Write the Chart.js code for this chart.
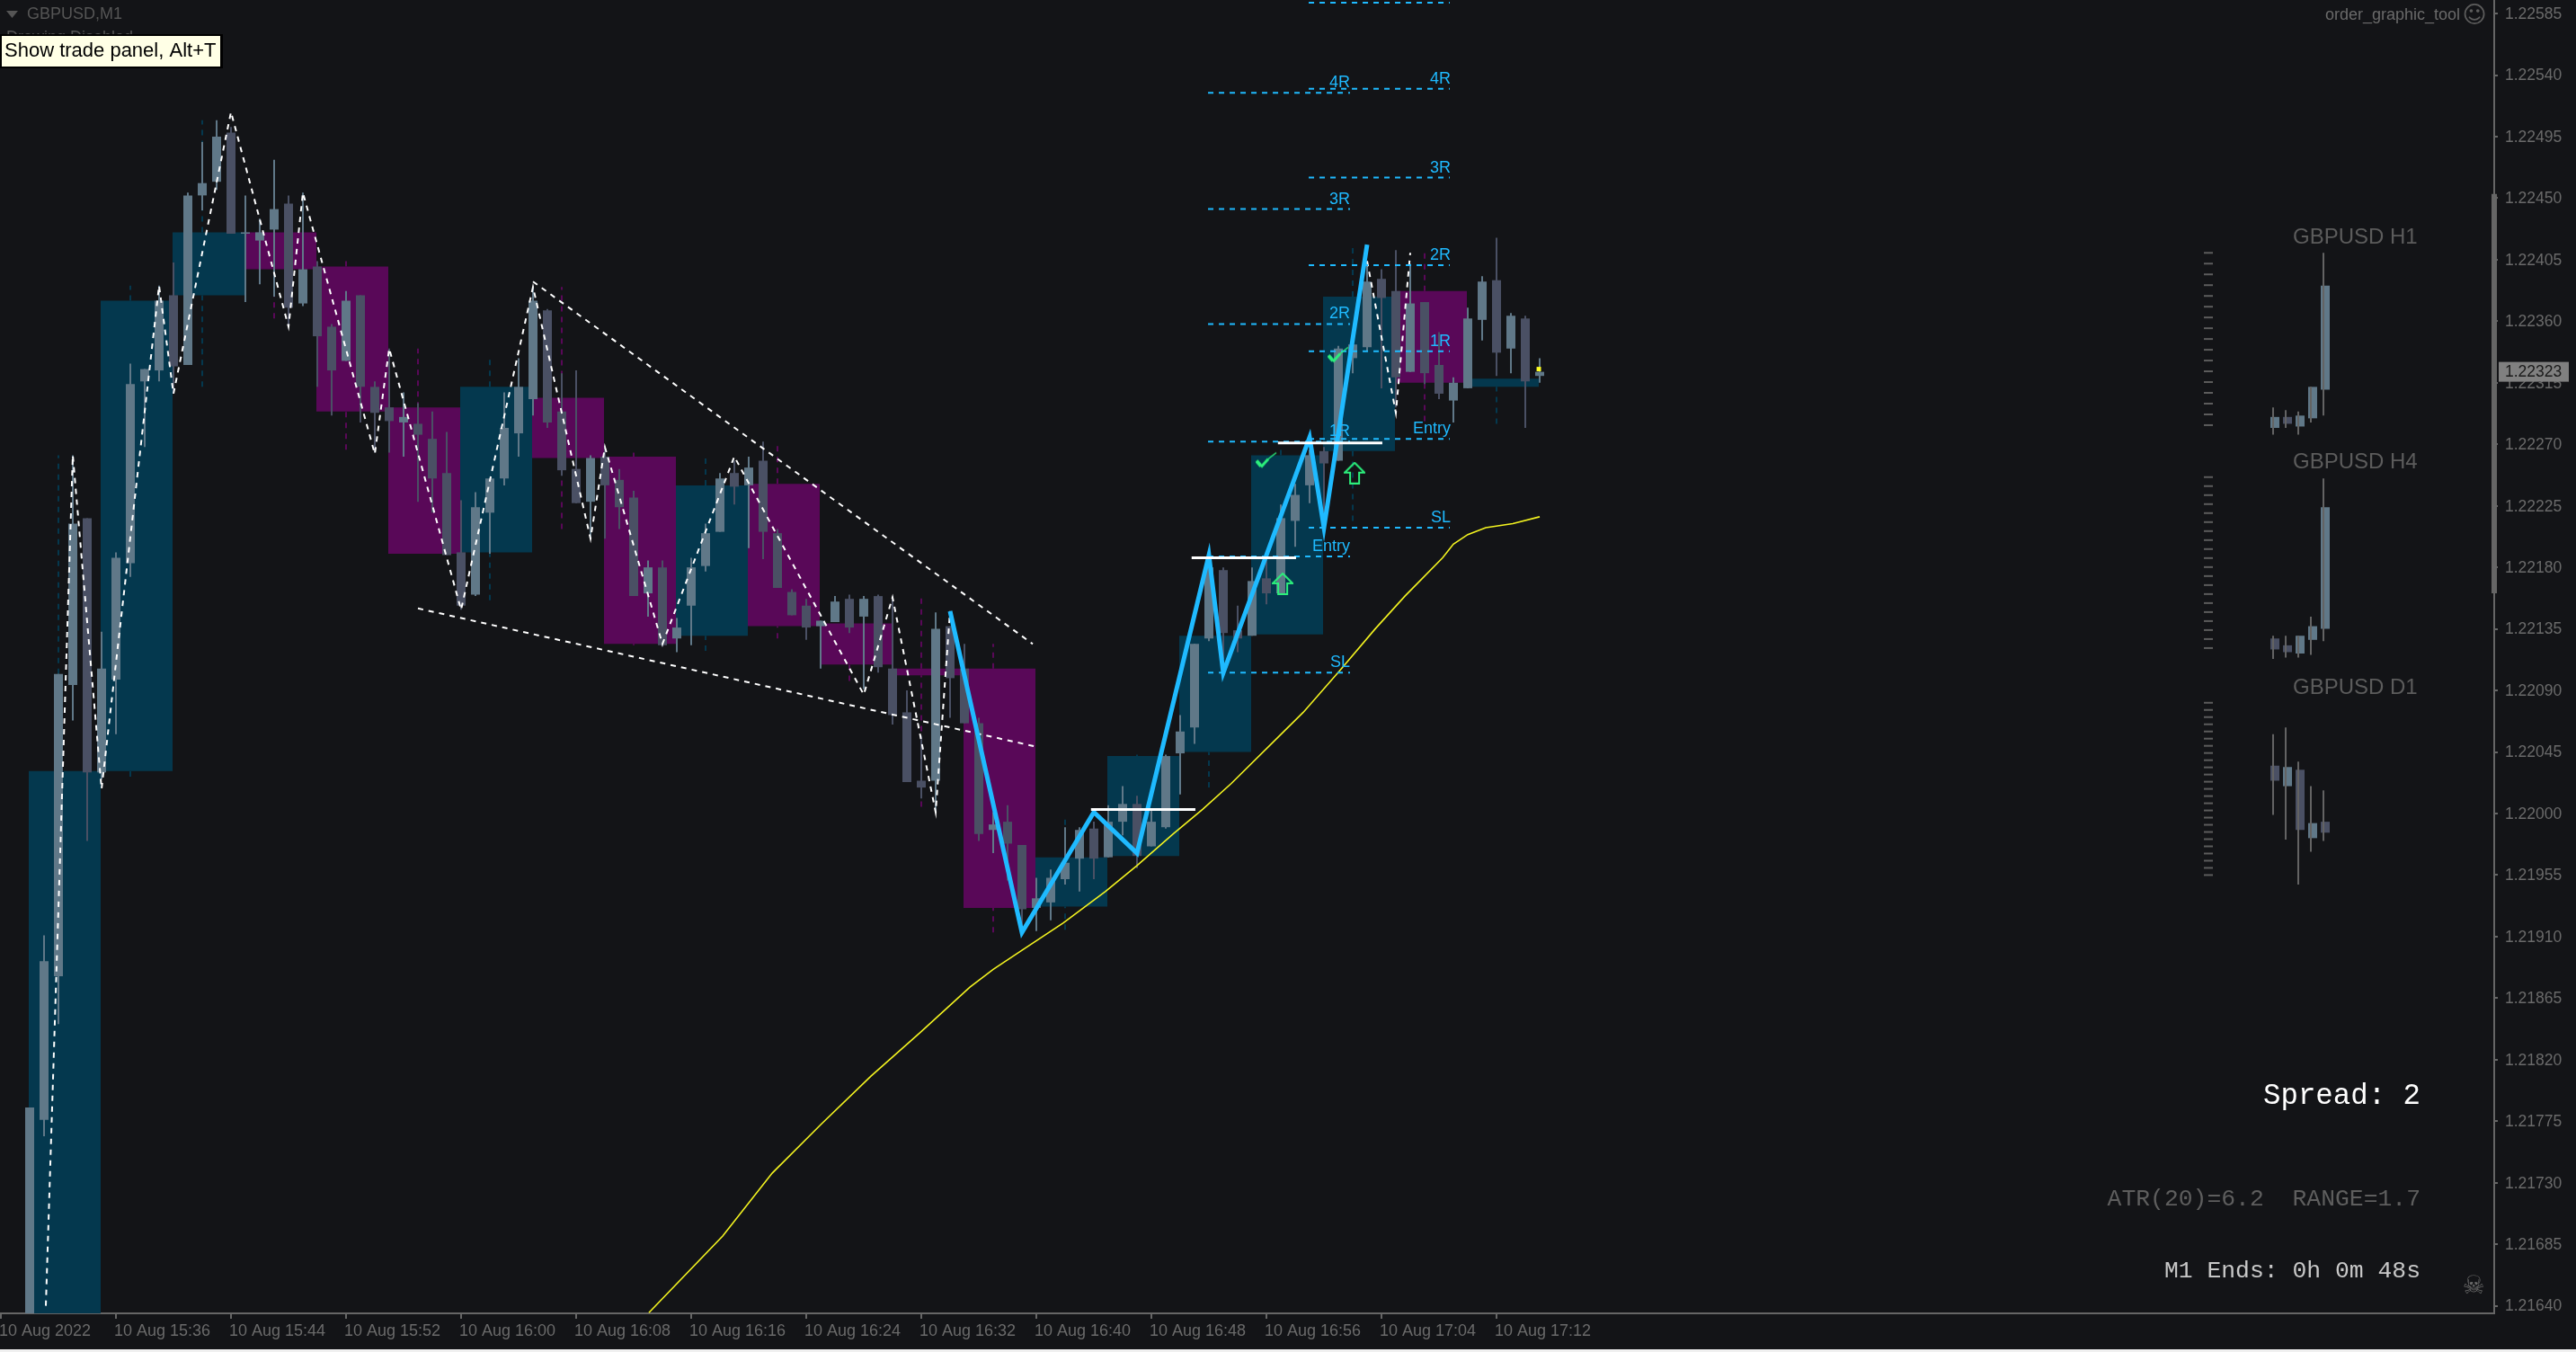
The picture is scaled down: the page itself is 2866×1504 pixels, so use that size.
<!DOCTYPE html>
<html>
<head>
<meta charset="utf-8">
<title>GBPUSD,M1</title>
<script src="https://cdn.jsdelivr.net/npm/chart.js@4/dist/chart.umd.min.js"></script>
<style>
    html, body { margin: 0; padding: 0; background: #f0f0f0; overflow: hidden; }
    canvas { display: block; }
</style>
</head>
<body>
<canvas id="grafico" width="2866" height="1501"></canvas>
<script>
// ==========================================
// DADOS
// ==========================================

// first M1 bar is bar 2 (15:30), bar 0 is 15:28
const firstBar = 2;
const barOpen = [1.21609,1.21776,1.21881,1.22094,1.22216,1.22030,1.22098,1.22183,1.22316,1.22324,1.22379,1.22328,1.22452,1.22462,1.22498,1.22424,1.22419,1.22427,1.22446,1.22373,
    1.22400,1.22356,1.22331,1.22379,1.22312,1.22297,1.22286,1.22285,1.22274,1.22249,1.22191,1.22160,1.22220,1.22245,1.22278,1.22303,1.22368,1.22294,1.22252,1.22228,
    1.22261,1.22244,1.22231,1.22161,1.22180,1.22128,1.22152,1.22181,1.22206,1.22249,1.22240,1.22258,1.22205,1.22162,1.22152,1.22137,1.22140,1.22157,1.22144,1.22159,
    1.22106,1.22074,1.22024,1.22024,1.22137,1.22106,1.22066,1.21988,1.21994,1.21977,1.21931,1.21935,1.21952,1.21967,1.21989,1.21968,1.21994,1.22007,1.21976,1.21990,
    1.22044,1.22063,1.22128,1.22178,1.22134,1.22130,1.22172,1.22161,1.22214,1.22240,1.22265,1.22258,1.22333,1.22341,1.22391,1.22382,1.22323,1.22374,1.22328,1.22302,
    1.22311,1.22361,1.22390,1.22340,1.22362,1.22320];
const barHigh = [1.21785,1.21911,1.22102,1.22262,1.22216,1.22133,1.22191,1.22329,1.22325,1.22386,1.22403,1.22454,1.22491,1.22507,1.22502,1.22452,1.22435,1.22478,1.22452,1.22454,
    1.22404,1.22358,1.22382,1.22379,1.22316,1.22340,1.22308,1.22300,1.22294,1.22279,1.22229,1.22235,1.22245,1.22308,1.22333,1.22385,1.22369,1.22322,1.22324,1.22262,
    1.22268,1.22252,1.22236,1.22185,1.22185,1.22143,1.22187,1.22212,1.22249,1.22258,1.22261,1.22272,1.22208,1.22164,1.22157,1.22141,1.22159,1.22160,1.22159,1.22160,
    1.22159,1.22090,1.22057,1.22147,1.22137,1.22124,1.22070,1.22001,1.22006,1.21977,1.21953,1.21959,1.21990,1.21990,1.21994,1.22006,1.22020,1.22013,1.22002,1.22043,
    1.22072,1.22124,1.22182,1.22180,1.22152,1.22180,1.22187,1.22226,1.22241,1.22266,1.22268,1.22342,1.22343,1.22404,1.22398,1.22412,1.22402,1.22374,1.22352,1.22319,
    1.22370,1.22393,1.22421,1.22366,1.22364,1.22333];
const barLow = [1.21609,1.21764,1.21846,1.22068,1.21980,1.22025,1.22058,1.22173,1.22268,1.22316,1.22307,1.22328,1.22441,1.22456,1.22424,1.22374,1.22387,1.22378,1.22356,1.22371,
    1.22312,1.22291,1.22331,1.22286,1.22264,1.22264,1.22261,1.22228,1.22220,1.22189,1.22149,1.22159,1.22190,1.22240,1.22261,1.22291,1.22282,1.22247,1.22227,1.22201,
    1.22201,1.22208,1.22159,1.22144,1.22122,1.22118,1.22123,1.22177,1.22206,1.22226,1.22194,1.22186,1.22165,1.22145,1.22127,1.22106,1.22140,1.22132,1.22091,1.22103,
    1.22065,1.22023,1.22011,1.22001,1.22070,1.22066,1.21980,1.21971,1.21951,1.21911,1.21914,1.21922,1.21948,1.21943,1.21952,1.21968,1.21984,1.21960,1.21976,1.21989,
    1.22014,1.22051,1.22126,1.22113,1.22118,1.22130,1.22153,1.22161,1.22195,1.22227,1.22220,1.22258,1.22322,1.22338,1.22311,1.22297,1.22323,1.22314,1.22303,1.22286,
    1.22311,1.22346,1.22320,1.22322,1.22282,1.22315];
const barClose = [1.21785,1.21892,1.22102,1.22212,1.22030,1.22106,1.22187,1.22314,1.22325,1.22375,1.22327,1.22452,1.22461,1.22495,1.22424,1.22425,1.22425,1.22442,1.22370,1.22398,
    1.22349,1.22324,1.22375,1.22312,1.22293,1.22287,1.22290,1.22277,1.22245,1.22189,1.22152,1.22224,1.22245,1.22282,1.22312,1.22375,1.22286,1.22251,1.22227,1.22260,
    1.22240,1.22224,1.22159,1.22180,1.22123,1.22136,1.22180,1.22205,1.22245,1.22239,1.22253,1.22206,1.22165,1.22145,1.22136,1.22141,1.22155,1.22136,1.22157,1.22107,
    1.22072,1.22023,1.22019,1.22135,1.22099,1.22066,1.21985,1.21992,1.21978,1.21930,1.21938,1.21953,1.21964,1.21988,1.21967,1.21994,1.22007,1.21969,1.21994,1.22042,
    1.22060,1.22124,1.22180,1.22132,1.22128,1.22170,1.22161,1.22216,1.22233,1.22262,1.22256,1.22340,1.22343,1.22389,1.22377,1.22319,1.22373,1.22322,1.22307,1.22315,
    1.22362,1.22389,1.22337,1.22364,1.22316,1.22323];

// M5 boxes, each one anchored on its middle M1 bar
const m5Bar = [4,9,14,19,24,29,34,39,44,49,54,59,64,69,74,79,84,89,94,99,104];
const m5Top = [1.22031,1.22375,1.22425,1.22425,1.22400,1.22297,1.22312,1.22304,1.22261,1.22240,1.22241,1.22139,1.22106,1.22106,1.21968,1.22042,1.22130,1.22262,1.22378,1.22382,1.22318];
const m5Bottom = [1.21609,1.22031,1.22379,1.22398,1.22294,1.22190,1.22191,1.22260,1.22124,1.22130,1.22137,1.22109,1.22101,1.21931,1.21932,1.21969,1.22045,1.22131,1.22265,1.22315,1.22312];
const m5High = [1.22262,1.22386,1.22507,1.22425,1.22404,1.22340,1.22333,1.22385,1.22264,1.22261,1.22272,1.22160,1.22159,1.22124,1.21999,1.22043,1.22130,1.22266,1.22414,1.22412,1.22318];
const m5Low = [1.21609,1.22027,1.22312,1.22362,1.22266,1.22190,1.22156,1.22208,1.22123,1.22119,1.22128,1.22097,1.22005,1.21913,1.21915,1.21969,1.22019,1.22131,1.22214,1.22287,1.22285];
const m5Up = [true,true,true,false,false,false,true,false,false,true,false,false,false,false,true,true,true,true,true,false,true];

// zigzags: bar number and price of each turning point
const zigBar = [3.125,5,7,11,12,16,20,21,26,27,32,37,41,42,46,51,60,62,65,66];
const zigPrice = [1.21640,1.22262,1.22018,1.22386,1.22307,1.22513,1.22356,1.22454,1.22263,1.22340,1.22149,1.22385,1.22201,1.22268,1.22124,1.22261,1.22087,1.22158,1.22001,1.22148];
const zig2Bar = [95,97,98];
const zig2Price = [1.22404,1.22293,1.22410];
const trendBar = [66,71,76,79,84,85,91,92,95];
const trendPrice = [1.22148,1.21913,1.22001,1.21971,1.22189,1.22103,1.22275,1.22209,1.22416];

// channel lines
const channelTopBar = [37,71.75];
const channelTopPrice = [1.22389,1.22124];
const channelLowBar = [29,71.94];
const channelLowPrice = [1.22150,1.22049];

// moving average
const maBar = [45.06,50.19,53.63,57.06,60.5,63.94,67.38,69,71,73.88,76.81,79,81.5,83.56,85.56,90.56,93.06,95.56,97.63,100.25,101,102,103.25,105.13,107];
const maPrice = [1.21635,1.21691,1.21737,1.21773,1.21808,1.21840,1.21873,1.21886,1.21900,1.21920,1.21943,1.21962,1.21985,1.22003,1.22022,1.22074,1.22104,1.22135,1.22159,1.22187,1.22197,1.22204,1.22209,1.22212,1.22217];

// breakout lines
const breakBarFrom = [75.8,82.8,88.8];
const breakBarTo = [83.06,90.06,96.06];
const breakPrice = [1.22003,1.22187,1.22271];

// trade levels
const levelNames = ['4R','3R','2R','1R','Entry','SL'];
const levelsA = [1.22527,1.22442,1.22358,1.22272,1.22188,1.22103];
const levelsB = [1.22530,1.22465,1.22401,1.22338,1.22274,1.22209];
const levelBTop = 1.22593;
const levelsAFrom = 83.94, levelsATo = 93.81;
const levelsBFrom = 90.94, levelsBTo = 100.75;

// buy arrows and check marks
const arrowBar = [89.13,94.13];
const arrowPrice = [1.22168,1.22249];
const checkBar = [88,93];
const checkPrice = [1.22258,1.22335];

// mini candles on the right side
const miniBars = [158,158.875,159.75,160.625,161.5];
const h1Open = [1.22282,1.22290,1.22283,1.22289,1.22310];
const h1High = [1.22297,1.22295,1.22294,1.22312,1.22410];
const h1Low = [1.22277,1.22282,1.22277,1.22286,1.22291];
const h1Close = [1.22290,1.22285,1.22291,1.22312,1.22386];
const h4Open = [1.22128,1.22123,1.22117,1.22127,1.22135];
const h4High = [1.22130,1.22130,1.22130,1.22144,1.22245];
const h4Low = [1.22113,1.22114,1.22114,1.22116,1.22126];
const h4Close = [1.22120,1.22118,1.22130,1.22137,1.22224];
const d1Open = [1.22035,1.22020,1.22032,1.21982,1.21994];
const d1High = [1.22058,1.22063,1.22038,1.22020,1.22017];
const d1Low = [1.21999,1.21981,1.21948,1.21972,1.21980];
const d1Close = [1.22024,1.22034,1.21988,1.21993,1.21986];

// rulers beside the mini candles
const rulerH1 = { top: 1.22410, bottom: 1.22284, count: 17 };
const rulerH4 = { top: 1.22246, bottom: 1.22121, count: 20 };
const rulerD1 = { top: 1.22081, bottom: 1.21955, count: 25 };

// axes
const priceTicks = [1.22585,1.22540,1.22495,1.22450,1.22405,1.22360,1.22315,1.22270,1.22225,1.22180,1.22135,1.22090,1.22045,1.22000,1.21955,1.21910,1.21865,1.21820,1.21775,1.21730,1.21685,1.21640];
const timeTicks = [0,8,16,24,32,40,48,56,64,72,80,88,96,104];
const timeLabels = ['10 Aug 2022','10 Aug 15:36','10 Aug 15:44','10 Aug 15:52','10 Aug 16:00','10 Aug 16:08','10 Aug 16:16','10 Aug 16:24','10 Aug 16:32','10 Aug 16:40','10 Aug 16:48','10 Aug 16:56','10 Aug 17:04','10 Aug 17:12'];
const lastPrice = 1.22323;
const scrollTop = 1.22453, scrollBottom = 1.22161;

// ==========================================
// CORES
// ==========================================

const COR_FUNDO = '#131417';
const COR_ALTA = '#607888';
const COR_BAIXA = '#4a5064';
const COR_TEAL = '#04384e';
const COR_ROXO = '#590858';
const COR_AZUL = '#1fbaff';
const COR_VERDE = '#2cf07c';
const COR_EIXO = '#666666';
const COR_TEXTO = '#6a6a6a';

// ==========================================
// FUNCOES DE APOIO
// ==========================================

function velas(bars, opens, highs, lows, closes, bodyOffset, wickColor, ordem) {
    let corpo = opens.map((o, i) => closes[i] >= o ? COR_ALTA : COR_BAIXA);
    return [
        {
            type: 'bar', order: ordem, grouped: false, barThickness: 10, inflateAmount: 0, borderWidth: 0,
            backgroundColor: corpo,
            data: bars.map((b, i) => ({ x: b + bodyOffset, y: [opens[i], closes[i]] }))
        },
        {
            type: 'bar', order: ordem + (wickColor ? -0.5 : 0.5), grouped: false, barThickness: 2, inflateAmount: 0, borderWidth: 0,
            backgroundColor: wickColor || corpo,
            data: bars.map((b, i) => ({ x: b, y: [lows[i], highs[i]] }))
        }
    ];
}

function linha(xs, ys, cor, largura, dash, ordem) {
    return {
        type: 'line', order: ordem, showLine: true, pointRadius: 0, borderColor: cor, borderWidth: largura,
        borderDash: dash || [], borderJoinStyle: 'miter', tension: 0, fill: false,
        data: xs.map((x, i) => ({ x: x, y: ys[i] }))
    };
}

// horizontal or vertical pieces split by gaps
function pedacos(trechos, cor, largura, dash, ordem) {
    let xs = [], ys = [];
    trechos.forEach(t => {
        xs.push(t[0], t[2], t[2]);
        ys.push(t[1], t[3], null);
    });
    return linha(xs, ys, cor, largura, dash, ordem);
}

function pavios(up) {
    let trechos = [];
    m5Bar.forEach((b, i) => {
        if (m5Up[i] !== up) return;
        if (m5High[i] > m5Top[i]) trechos.push([b, m5Top[i], b, m5High[i]]);
        if (m5Low[i] < m5Bottom[i]) trechos.push([b, m5Low[i], b, m5Bottom[i]]);
    });
    return pedacos(trechos, up ? COR_TEAL : COR_ROXO, 2, [6, 6], 90);
}

function regua(r) {
    let dados = [];
    for (let i = 0; i < r.count; i++) {
        dados.push({ x: 153.5, y: r.top + (r.bottom - r.top) * i / (r.count - 1) });
    }
    return {
        type: 'line', order: 10, showLine: false, pointStyle: 'line', pointRadius: 5,
        pointBorderColor: '#5c5c5c', pointBorderWidth: 2, data: dados
    };
}

function iconeSeta() {
    let c = document.createElement('canvas');
    c.width = 24; c.height = 25;
    let g = c.getContext('2d');
    g.strokeStyle = COR_VERDE;
    g.lineWidth = 2;
    g.beginPath();
    g.moveTo(12, 1); g.lineTo(23, 12); g.lineTo(17, 12); g.lineTo(17, 24); g.lineTo(7, 24); g.lineTo(7, 12); g.lineTo(1, 12);
    g.closePath();
    g.stroke();
    return c;
}

function iconeCheck() {
    let c = document.createElement('canvas');
    c.width = 24; c.height = 22;
    let g = c.getContext('2d');
    g.strokeStyle = COR_VERDE;
    g.lineCap = 'butt';
    g.lineWidth = 4;
    g.beginPath();
    g.moveTo(1, 11); g.lineTo(6, 17);
    g.stroke();
    g.lineWidth = 3;
    g.beginPath();
    g.moveTo(6, 18); g.lineTo(14, 9);
    g.stroke();
    g.lineWidth = 1.5;
    g.beginPath();
    g.moveTo(14, 9); g.lineTo(23, 2);
    g.stroke();
    return c;
}

function pontos(xs, ys, estilo, ordem) {
    return {
        type: 'line', order: ordem, showLine: false, pointStyle: estilo, pointRadius: 12,
        data: xs.map((x, i) => ({ x: x, y: ys[i] }))
    };
}

// ==========================================
// DATASETS
// ==========================================

let trechosNiveis = [];
levelsA.forEach(p => trechosNiveis.push([levelsAFrom, p, levelsATo, p]));
levelsB.forEach(p => trechosNiveis.push([levelsBFrom, p, levelsBTo, p]));
trechosNiveis.push([levelsBFrom, levelBTop, levelsBTo, levelBTop]);

let barras = barOpen.map((o, i) => i + firstBar);

let datasets = [
    {
        type: 'bar', order: 100, grouped: false, barThickness: 80, inflateAmount: 0, borderWidth: 0,
        backgroundColor: m5Up.map(u => u ? COR_TEAL : COR_ROXO),
        data: m5Bar.map((b, i) => ({ x: b + 0.4375, y: [m5Bottom[i], m5Top[i]] }))
    },
    pavios(true),
    pavios(false),
    ...velas(barras, barOpen, barHigh, barLow, barClose, 0, null, 50),
    ...velas(miniBars, h1Open, h1High, h1Low, h1Close, 0.125, '#636363', 20),
    ...velas(miniBars, h4Open, h4High, h4Low, h4Close, 0.125, '#636363', 20),
    ...velas(miniBars, d1Open, d1High, d1Low, d1Close, 0.125, '#636363', 20),
    regua(rulerH1),
    regua(rulerH4),
    regua(rulerD1),
    linha(maBar, maPrice, '#f4f420', 1.6, null, 40),
    linha(zigBar, zigPrice, '#ffffff', 2, [6, 6], 30),
    linha(zig2Bar, zig2Price, '#ffffff', 2, [6, 6], 30),
    linha(channelTopBar, channelTopPrice, '#ffffff', 2, [6, 6], 30),
    linha(channelLowBar, channelLowPrice, '#ffffff', 2, [6, 6], 30),
    pedacos(trechosNiveis, COR_AZUL, 2, [6, 6], 8),
    linha(trendBar, trendPrice, COR_AZUL, 5, null, 6),
    pedacos(breakBarFrom.map((b, i) => [b, breakPrice[i], breakBarTo[i], breakPrice[i]]), '#ffffff', 3, null, 5),
    pontos(arrowBar, arrowPrice, iconeSeta(), 4),
    pontos(checkBar, checkPrice, iconeCheck(), 4),
    {
        type: 'line', order: 3, showLine: false, pointStyle: 'rect', pointRadius: 3.5,
        pointBackgroundColor: '#ffff22', pointBorderWidth: 0,
        data: [{ x: barras[barras.length - 1] - 0.06, y: 1.22325 }]
    },
    Object.assign(linha([173.375, 173.375], [scrollTop, scrollBottom], COR_EIXO, 6, null, 2), { clip: false })
];

// ==========================================
// TEXTOS SOBRE O GRAFICO
// ==========================================

function escreve(ctx, texto, x, y, fonte, cor, alinhamento) {
    ctx.font = fonte;
    ctx.fillStyle = cor;
    ctx.textAlign = alinhamento || 'left';
    ctx.textBaseline = 'middle';
    ctx.fillText(texto, x, y);
}

const textos = {
    id: 'textos',
    afterDraw(chart) {
        let ctx = chart.ctx;
        let eixoX = chart.scales.x, eixoY = chart.scales.y;
        ctx.save();

        // level names above each dashed line
        levelNames.forEach((nome, i) => {
            escreve(ctx, nome, eixoX.getPixelForValue(levelsATo), eixoY.getPixelForValue(levelsA[i]) - 11, '18px "Liberation Sans"', COR_AZUL, 'right');
            escreve(ctx, nome, eixoX.getPixelForValue(levelsBTo) + 1, eixoY.getPixelForValue(levelsB[i]) - 11, '18px "Liberation Sans"', COR_AZUL, 'right');
        });

        // widgets on the right
        escreve(ctx, 'GBPUSD H1', 2551, 264, '24px "Liberation Sans"', '#5c5c5c');
        escreve(ctx, 'GBPUSD H4', 2551, 514, '24px "Liberation Sans"', '#5c5c5c');
        escreve(ctx, 'GBPUSD D1', 2551, 765, '24px "Liberation Sans"', '#5c5c5c');
        escreve(ctx, 'order_graphic_tool', 2737, 17, '18px "Liberation Sans"', COR_TEXTO, 'right');
        escreve(ctx, '\u263A', 2753, 18, '26px "DejaVu Sans"', '#5c5c5c', 'center');
        escreve(ctx, 'Spread: 2', 2693, 1219, '32.4px "Liberation Mono"', '#ffffff', 'right');
        escreve(ctx, 'ATR(20)=6.2  RANGE=1.7', 2693, 1334, '26.4px "Liberation Mono"', '#5e5e5e', 'right');
        escreve(ctx, 'M1 Ends: 0h 0m 48s', 2693, 1414, '26.4px "Liberation Mono"', '#c8c8c8', 'right');
        escreve(ctx, '\u2620', 2752, 1432, '28px "DejaVu Sans"', '#6a6a6a', 'center');

        // last price tag
        let yPreco = eixoY.getPixelForValue(lastPrice);
        ctx.fillStyle = '#808080';
        ctx.fillRect(2780, yPreco - 11, 78, 22);
        escreve(ctx, lastPrice.toFixed(5), 2787, yPreco + 1, '17.5px "Liberation Sans"', '#1a1a1a');

        // chart title with its little triangle
        ctx.fillStyle = '#555555';
        ctx.beginPath();
        ctx.moveTo(7, 12); ctx.lineTo(20, 12); ctx.lineTo(13.5, 20);
        ctx.closePath();
        ctx.fill();
        escreve(ctx, 'GBPUSD,M1', 30, 16, '18px "Liberation Sans"', '#555555');
        escreve(ctx, 'Drawing Disabled', 7, 42, '18px "Liberation Sans"', '#555555');

        // hint box
        ctx.fillStyle = '#000000';
        ctx.fillRect(0, 38, 248, 38);
        ctx.fillStyle = '#ffffe6';
        ctx.fillRect(2, 40, 243, 34);
        escreve(ctx, 'Show trade panel, Alt+T', 5, 57, '22px "Liberation Sans"', '#000000');

        ctx.restore();
    }
};

// ==========================================
// GRAFICO
// ==========================================

Chart.defaults.font.family = '"Liberation Sans"';

let canvasFundo = {
    id: 'canvasFundo',
    beforeDraw(chart) {
        chart.ctx.fillStyle = COR_FUNDO;
        chart.ctx.fillRect(0, 0, chart.width, chart.height);
    }
};

// the axes must not steal room from the plot for their labels
function semPadding(scale) {
    scale.paddingTop = 0;
    scale.paddingBottom = 0;
    scale.paddingLeft = 0;
    scale.paddingRight = 0;
}

new Chart(document.getElementById('grafico'), {
    type: 'bar',
    data: { datasets: datasets },
    plugins: [canvasFundo, textos],
    options: {
        responsive: false,
        animation: false,
        layout: { padding: 0, autoPadding: false },
        plugins: { legend: { display: false }, tooltip: { enabled: false } },
        scales: {
            x: {
                type: 'linear',
                min: -0.0625,
                max: 173.375,
                offset: false,
                bounds: 'data',
                afterFit: scale => { scale.height = 40; semPadding(scale); },
                afterBuildTicks: scale => { scale.ticks = timeTicks.map(v => ({ value: v })); },
                border: { display: true, color: COR_EIXO, width: 2 },
                grid: { offset: false, drawOnChartArea: false, drawTicks: true, tickLength: 6, color: COR_EIXO, lineWidth: 2 },
                ticks: {
                    align: 'start', autoSkip: false, maxRotation: 0, minRotation: 0, padding: 3, labelOffset: -2,
                    color: COR_TEXTO, font: { size: 18 },
                    callback: (v, i) => timeLabels[i]
                }
            },
            y: {
                type: 'linear',
                position: 'right',
                min: 1.216345,
                max: 1.225949,
                bounds: 'data',
                afterFit: scale => { scale.width = 91; semPadding(scale); },
                afterBuildTicks: scale => { scale.ticks = priceTicks.map(v => ({ value: v })); },
                border: { display: true, color: COR_EIXO, width: 2 },
                grid: { drawOnChartArea: false, drawTicks: true, tickLength: 4, color: COR_EIXO, lineWidth: 2 },
                ticks: {
                    autoSkip: false, padding: 8, labelOffset: 1, color: COR_TEXTO, font: { size: 17.5 },
                    callback: v => v.toFixed(5)
                }
            }
        }
    }
});
</script>
</body>
</html>
